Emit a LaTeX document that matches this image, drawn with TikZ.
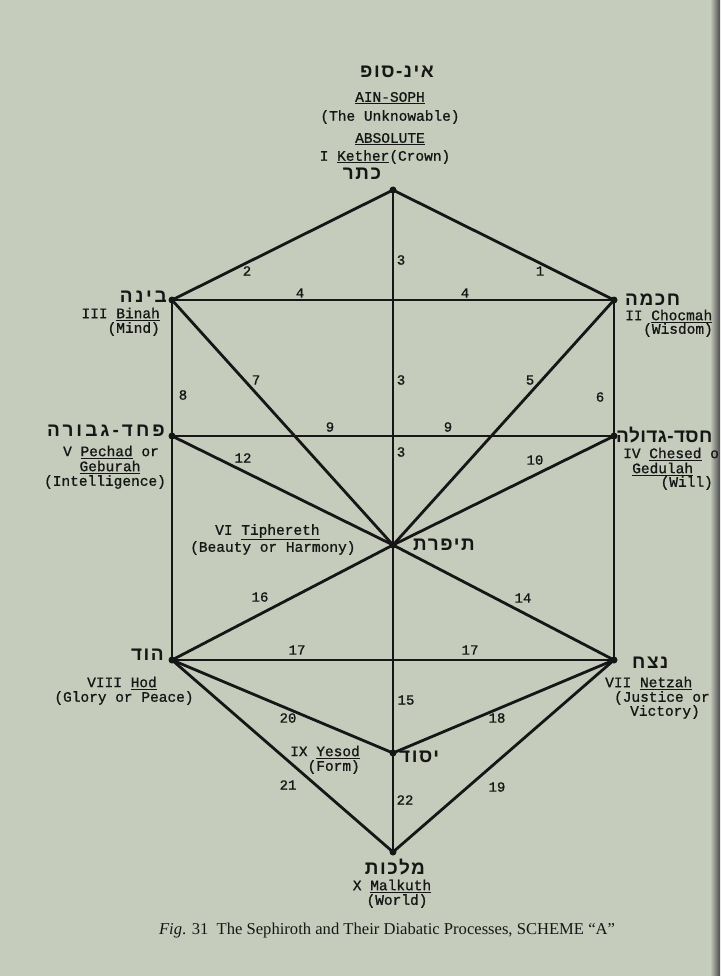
\documentclass[tikz,border=0pt]{standalone}
\usepackage{fontspec}
\setmainfont{Liberation Serif}
\setmonofont{Liberation Mono}[FakeBold=1]
\newfontfamily\hebfont[Script=Hebrew,LetterSpace=8]{Liberation Sans}
\TeXXeTstate=1
\definecolor{bg}{RGB}{198,204,188}
\definecolor{ink}{RGB}{22,22,22}
\begin{document}
\begin{tikzpicture}[x=1pt,y=-1pt,
  lbl/.style={font=\ttfamily\fontsize{14.5}{15}\selectfont, text=ink, inner sep=0pt},
  heb/.style={font=\hebfont\bfseries\fontsize{19}{20}\selectfont, text=ink, inner sep=0pt},
  num/.style={font=\ttfamily\fontsize{14}{15}\selectfont, text=ink, inner sep=0pt},
  conn/.style={line width=2.8pt, draw=ink, line cap=round},
  dot/.style={circle, fill=ink, inner sep=0pt, minimum size=7pt},
  captext/.style={font=\rmfamily\fontsize{16.6}{18}\selectfont, text=ink, inner sep=0pt}]
\useasboundingbox (0,0) rectangle (720,976);
\fill[bg] (0,0) rectangle (720,976);
\shade[left color=bg, right color=black!70] (710,0) rectangle (720,976);

% sephiroth points
\node[dot] (k) at (393,190) {};
\node[dot] (bi) at (172,300) {};
\node[dot] (ch) at (614,300) {};
\node[dot] (pe) at (172,436) {};
\node[dot] (he) at (614,436) {};
\node[dot] (ti) at (393,545) {};
\node[dot] (ho) at (172,660) {};
\node[dot] (ne) at (614,660) {};
\node[dot] (ye) at (393,753) {};
\node[dot] (ma) at (393,852) {};

% connectors
\draw[conn] (k.center) -- (ch.center);
\draw[conn] (k.center) -- (bi.center);
\draw[conn] (k.center) -- (ti.center);
\draw[conn] (bi.center) -- (ch.center);
\draw[conn] (ch.center) -- (ti.center);
\draw[conn] (ch.center) -- (he.center);
\draw[conn] (bi.center) -- (ti.center);
\draw[conn] (bi.center) -- (pe.center);
\draw[conn] (pe.center) -- (he.center);
\draw[conn] (he.center) -- (ti.center);
\draw[conn] (pe.center) -- (ti.center);
\draw[conn] (pe.center) -- (ho.center);
\draw[conn] (he.center) -- (ne.center);
\draw[conn] (ti.center) -- (ne.center);
\draw[conn] (ti.center) -- (ho.center);
\draw[conn] (ho.center) -- (ne.center);
\draw[conn] (ti.center) -- (ye.center);
\draw[conn] (ho.center) -- (ye.center);
\draw[conn] (ne.center) -- (ye.center);
\draw[conn] (ho.center) -- (ma.center);
\draw[conn] (ne.center) -- (ma.center);
\draw[conn] (ye.center) -- (ma.center);

% path numbers
\node[num] (n1) at (540,271) {1};
\node[num] (n2) at (247,271) {2};
\node[num] (n3a) at (401,260) {3};
\node[num] (n3b) at (401,380) {3};
\node[num] (n3c) at (401,452) {3};
\node[num] (n4a) at (300,293) {4};
\node[num] (n4b) at (465,293) {4};
\node[num] (n5) at (530,380) {5};
\node[num] (n6) at (600,397) {6};
\node[num] (n7) at (256,380) {7};
\node[num] (n8) at (183,395) {8};
\node[num] (n9a) at (330,427) {9};
\node[num] (n9b) at (448,427) {9};
\node[num] (n10) at (535,460) {10};
\node[num] (n12) at (243,458) {12};
\node[num] (n14) at (523,598) {14};
\node[num] (n15) at (406,700) {15};
\node[num] (n16) at (260,597) {16};
\node[num] (n17a) at (297,650) {17};
\node[num] (n17b) at (470,650) {17};
\node[num] (n18) at (497,718) {18};
\node[num] (n19) at (497,787) {19};
\node[num] (n20) at (288,718) {20};
\node[num] (n21) at (288,785) {21};
\node[num] (n22) at (405,800) {22};

% top block
\node[heb] (hain) at (397,72) {\beginR אינ-סופ\endR};
\node[lbl] (ain) at (390,98) {\underline{AIN-SOPH}};
\node[lbl] (unk) at (390,117) {(The Unknowable)};
\node[lbl] (abs) at (390,139) {\underline{ABSOLUTE}};
\node[lbl] (ket) at (385,157) {I \underline{Kether}(Crown)};
\node[heb] (hket) at (362,174) {\beginR כתר\endR};

% Binah
\node[heb, anchor=east] (hbi) at (167,297) {\addfontfeature{LetterSpace=14}\beginR בינה\endR};
\node[lbl, anchor=east] (bi1) at (160,314) {III \underline{Binah}};
\node[lbl, anchor=east] (bi2) at (160,329) {(Mind)};

% Chocmah
\node[heb, anchor=west] (hch) at (625,300) {\beginR חכמה\endR};
\node[lbl, anchor=west] (ch1) at (625,316) {II \underline{Chocmah}};
\node[lbl, anchor=east] (ch2) at (713,330) {(Wisdom)};

% Pechad
\node[heb, anchor=east] (hpe) at (165,431) {\addfontfeature{LetterSpace=16}\beginR פחד-גבורה\endR};
\node[lbl] (pe1) at (111,452) {V \underline{Pechad} or};
\node[lbl] (pe2) at (110,467) {\underline{Geburah}};
\node[lbl] (pe3) at (105,482) {(Intelligence)};

% Chesed
\node[heb, anchor=west] (hhe) at (616,435) {\addfontfeature{LetterSpace=2}\beginR חסד-גדולה\endR};
\node[lbl, anchor=west] (he1) at (623,454) {IV \underline{Chesed} o};
\node[lbl, anchor=west] (he2) at (632,469) {\underline{Gedulah}};
\node[lbl, anchor=east] (he3) at (713,483) {(Will)};

% Tiphereth
\node[lbl, anchor=west] (ti1) at (215,532) {VI \underline{Tiphereth}};
\node[lbl, anchor=west] (ti2) at (190,548) {(Beauty or Harmony)};
\node[heb, anchor=west] (hti) at (413,545) {\beginR תיפרת\endR};

% Hod
\node[heb, anchor=east] (hho) at (164,655) {\beginR הוד\endR};
\node[lbl, anchor=east] (ho1) at (157,683) {VIII \underline{Hod}};
\node[lbl] (ho2) at (124,698) {(Glory or Peace)};

% Netzah
\node[heb, anchor=west] (hne) at (632,663) {\beginR נצח\endR};
\node[lbl, anchor=west] (ne1) at (605,683) {VII \underline{Netzah}};
\node[lbl, anchor=east] (ne2) at (710,698) {(Justice or};
\node[lbl, anchor=east] (ne3) at (700,712) {Victory)};

% Yesod
\node[lbl, anchor=east] (ye1) at (360,752) {IX \underline{Yesod}};
\node[lbl, anchor=east] (ye2) at (360,767) {(Form)};
\node[heb, anchor=west] (hye) at (399,757) {\beginR יסוד\endR};

% Malkuth
\node[heb] (hma) at (395,867) {\beginR מלכות\endR};
\node[lbl] (ma1) at (392,886) {X \underline{Malkuth}};
\node[lbl] (ma2) at (397,901) {(World)};

% caption
\node[captext] (capt) at (387,930) {\textit{Fig}. 31\ \ The Sephiroth and Their Diabatic Processes, SCHEME ``A''};
\end{tikzpicture}
\end{document}
